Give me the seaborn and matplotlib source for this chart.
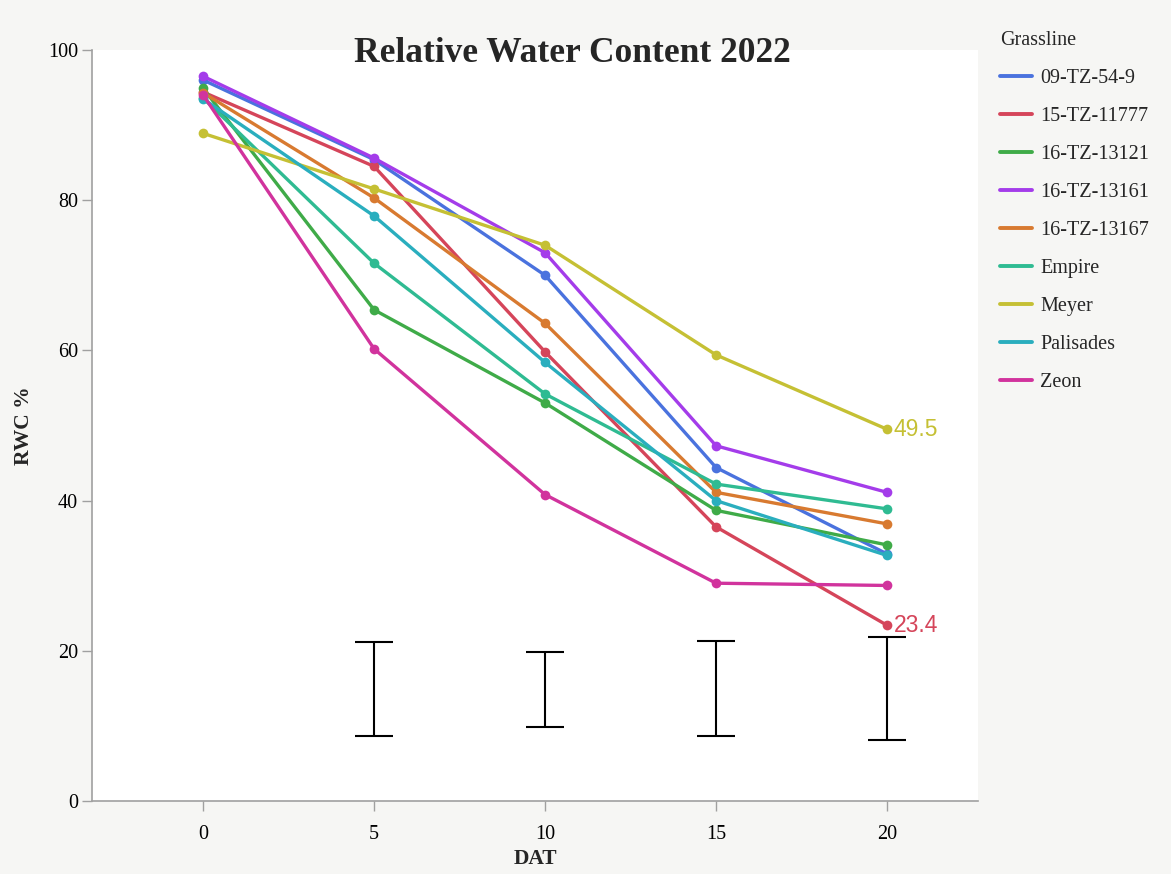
import pandas as pd
import numpy as np
import seaborn as sns
import matplotlib.pyplot as plt

days = [0, 5, 10, 15, 20]
lines = ['09-TZ-54-9', '15-TZ-11777', '16-TZ-13121', '16-TZ-13161', '16-TZ-13167',
         'Empire', 'Meyer', 'Palisades', 'Zeon']

rwc_0954 = [96.0, 85.4, 70.0, 44.4, 32.9]
rwc_11777 = [94.4, 84.5, 59.8, 36.5, 23.4]
rwc_13121 = [94.9, 65.4, 53.0, 38.7, 34.1]
rwc_13161 = [96.5, 85.6, 73.0, 47.3, 41.1]
rwc_13167 = [94.3, 80.3, 63.6, 41.1, 36.9]
rwc_empire = [93.6, 71.6, 54.2, 42.2, 38.9]
rwc_meyer = [88.9, 81.5, 74.0, 59.4, 49.5]
rwc_palisades = [93.5, 77.9, 58.4, 40.0, 32.7]
rwc_zeon = [94.0, 60.2, 40.8, 29.0, 28.7]

# LSD style bars
bar_days = [5, 10, 15, 20]
bar_low = [8.7, 9.9, 8.6, 8.1]
bar_high = [21.2, 19.9, 21.3, 21.8]

colors_map = {
    '09-TZ-54-9': '#4a72de', '15-TZ-11777': '#d5455a', '16-TZ-13121': '#3fab48',
    '16-TZ-13161': '#a43cea', '16-TZ-13167': '#d87a30', 'Empire': '#2fbb92',
    'Meyer': '#c5c034', 'Palisades': '#2aaebe', 'Zeon': '#d1339d'}

values = [rwc_0954, rwc_11777, rwc_13121, rwc_13161, rwc_13167,
          rwc_empire, rwc_meyer, rwc_palisades, rwc_zeon]
rows = []
for name, vals in zip(lines, values):
    for d, v in zip(days, vals):
        rows.append({'DAT': d, 'RWC': v, 'Grassline': name})
df = pd.DataFrame(rows)

sns.set_style('white')
plt.rcParams['font.family'] = ['Liberation Serif', 'DejaVu Serif']

fig = plt.figure(figsize=(11.71, 8.74), dpi=100)
fig.patch.set_facecolor('#f6f6f4')
ax = fig.add_axes([92/1171, 1-801/874, (978-92)/1171, (801-50)/874])
ax.set_facecolor('white')

sns.lineplot(data=df, x='DAT', y='RWC', hue='Grassline', hue_order=lines,
             palette=colors_map, marker='o', markersize=7, markeredgewidth=0,
             linewidth=2.4, ax=ax, legend=True)

mid = [(lo + hi) / 2 for lo, hi in zip(bar_low, bar_high)]
err = [(hi - lo) / 2 for lo, hi in zip(bar_low, bar_high)]
ax.errorbar(bar_days, mid, yerr=err, fmt='none', ecolor='black',
            elinewidth=1.5, capsize=13.5, capthick=1.5)

# end labels
ax.annotate('49.5', (20, rwc_meyer[-1]), xytext=(5, 0), textcoords='offset points',
            va='center', ha='left', color=colors_map['Meyer'], fontsize=16.5,
            family='Liberation Sans')
ax.annotate('23.4', (20, rwc_11777[-1]), xytext=(5, 0), textcoords='offset points',
            va='center', ha='left', color=colors_map['15-TZ-11777'], fontsize=16.5,
            family='Liberation Sans')

ax.set_xlim(-3.25, 22.66)
ax.set_ylim(0, 100)
ax.set_xticks([0, 5, 10, 15, 20])
ax.set_yticks([0, 20, 40, 60, 80, 100])
sns.despine(ax=ax)
for s in ['left', 'bottom']:
    ax.spines[s].set_color('#a0a0a0')
    ax.spines[s].set_linewidth(1.2)
ax.tick_params(axis='both', colors='#a0a0a0', labelcolor='black', labelsize=14.5,
               length=7, width=1, direction='out', left=True, bottom=True)
ax.tick_params(axis='x', pad=10)
ax.tick_params(axis='y', pad=3)
ax.set_xlabel('DAT', fontsize=15.5, fontweight='bold', labelpad=4)
ax.set_ylabel('RWC %', fontsize=15.5, fontweight='bold', labelpad=10)

fig.text(572/1171, 1-53/874, 'Relative Water Content 2022', ha='center', va='center',
         fontsize=25.5, fontweight='bold')

leg = ax.legend(title='Grassline', loc='upper left', bbox_to_anchor=(1.004, 1.05),
                frameon=False, fontsize=14.5, title_fontsize=14.5, handlelength=1.6,
                labelspacing=0.94, handletextpad=0.4, alignment='left')
for h in leg.get_lines():
    h.set_marker('')
    h.set_linewidth(2.8)

fig.savefig('out.png', dpi=100, facecolor=fig.get_facecolor())
